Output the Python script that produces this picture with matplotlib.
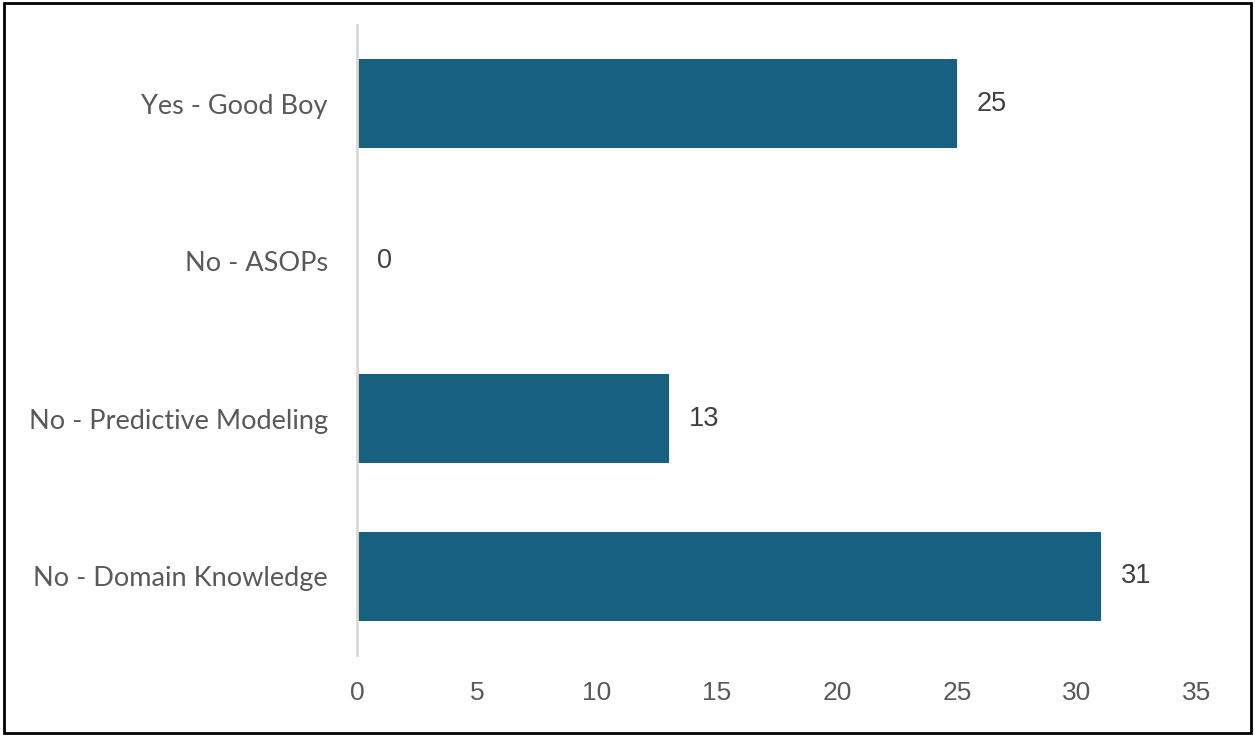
import matplotlib
matplotlib.use("Agg")
import matplotlib.pyplot as plt
from matplotlib.patches import Rectangle

categories = ["Yes - Good Boy", "No - ASOPs", "No - Predictive Modeling", "No - Domain Knowledge"]
values = [25, 0, 13, 31]
xticks = [0, 5, 10, 15, 20, 25, 30, 35]

bar_color = "#17607F"
text_color = "#595959"

fig = plt.figure(figsize=(12.55, 7.36), dpi=100)
ax = fig.add_axes([357/1255, 1-655/736, (1197-357)/1255, (655-25)/736])

ypos = list(range(len(categories)))
ax.barh(ypos, values, height=0.565, color=bar_color)
ax.set_ylim(3.5, -0.5)
ax.set_xlim(0, 35)
ax.set_yticks(ypos)
ax.set_yticklabels(categories, fontfamily="Lato", fontsize=19.5, color=text_color)
ax.set_xticks(xticks)
ax.set_xticklabels([str(t) for t in xticks], fontfamily="Liberation Sans", fontsize=19, color=text_color)
ax.tick_params(axis="y", length=0, pad=21)
ax.tick_params(axis="x", length=0, pad=19)
for s in ["top", "right", "bottom"]:
    ax.spines[s].set_visible(False)
ax.spines["left"].set_color("#D9D9D9")
ax.spines["left"].set_linewidth(2)

for y, v in zip(ypos, values):
    ax.text(v + 0.83, y, str(v), va="center", ha="left", fontfamily="Liberation Sans",
            fontsize=19.5, color="#404040")

fig.patches.append(Rectangle((4/1255, 3/736), 1247/1255, 730/736, transform=fig.transFigure,
                             fill=False, edgecolor="black", linewidth=2))

fig.savefig("out.png", dpi=100)
